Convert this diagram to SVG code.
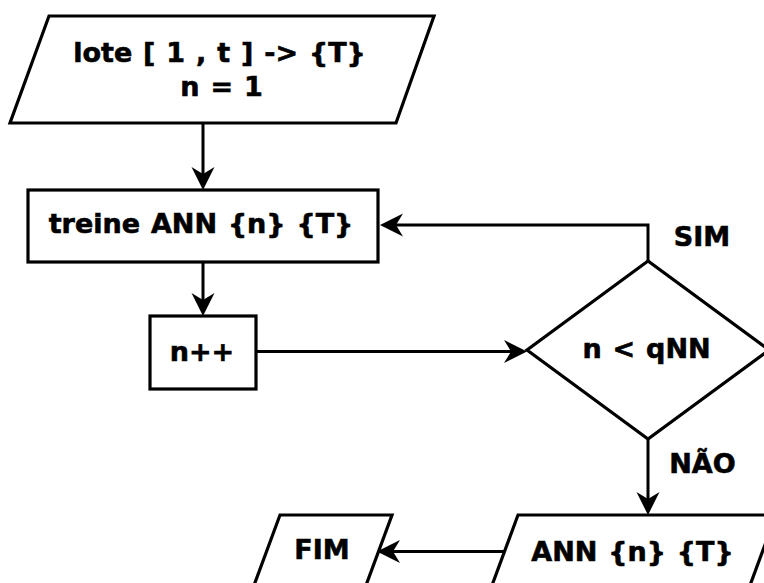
<svg xmlns="http://www.w3.org/2000/svg" width="764" height="583" viewBox="0 0 764 583">
  <style>
    .shape { fill: #ffffff; stroke: #000000; stroke-width: 3.2; stroke-linejoin: miter; }
    .conn { fill: none; stroke: #000000; stroke-width: 3; }
    .label { font-family: "DejaVu Sans", "Liberation Sans", sans-serif; font-weight: bold; font-size: 27px; word-spacing: 1.5px; fill: #000000; stroke: #000000; stroke-width: 0.6; text-anchor: middle; }
  </style>
  <defs>
    <marker id="arrow" viewBox="0 -12 24 24" refX="8" refY="0" markerWidth="24" markerHeight="24" markerUnits="userSpaceOnUse" orient="auto">
      <path d="M24,0 L1,-11.5 L8,0 L1,11.5 Z" fill="#000000"/>
    </marker>
  </defs>
  <rect width="764" height="583" fill="#ffffff"/>

  <g id="connectors">
    <path class="conn" d="M203,123 V174" marker-end="url(#arrow)"/>
    <path class="conn" d="M203,262 V300" marker-end="url(#arrow)"/>
    <path class="conn" d="M256,351.5 H511" marker-end="url(#arrow)"/>
    <path class="conn" d="M648,261 V225 H396" marker-end="url(#arrow)"/>
    <path class="conn" d="M648,439 V499" marker-end="url(#arrow)"/>
    <path class="conn" d="M505,551.5 H393" marker-end="url(#arrow)"/>
  </g>

  <g id="start">
    <polygon class="shape" points="49,16 434,16 396,123 10,123"/>
    <text class="label" x="219.5" y="62">lote [ 1 , t ] -&gt; {T}</text>
    <text class="label" x="221.5" y="96">n = 1</text>
  </g>

  <g id="train">
    <rect class="shape" x="28" y="190" width="350" height="72"/>
    <text class="label" x="201" y="233">treine ANN {n} {T}</text>
  </g>

  <g id="increment">
    <rect class="shape" x="150" y="316" width="106" height="73"/>
    <text class="label" x="202" y="361">n++</text>
  </g>

  <g id="decision">
    <polygon class="shape" points="648,261 527,350 648,439 769,350"/>
    <text class="label" x="646.5" y="358">n &lt; qNN</text>
  </g>

  <g id="edge-labels">
    <text class="label" x="702" y="246">SIM</text>
    <text class="label" x="702.5" y="473">NÃO</text>
  </g>

  <g id="output">
    <polygon class="shape" points="518,515 776,515 742,607 484,607"/>
    <text class="label" x="632.5" y="561">ANN {n} {T}</text>
  </g>

  <g id="end">
    <polygon class="shape" points="280,515 392,515 358,607 246,607"/>
    <text class="label" x="322" y="559">FIM</text>
  </g>
</svg>
